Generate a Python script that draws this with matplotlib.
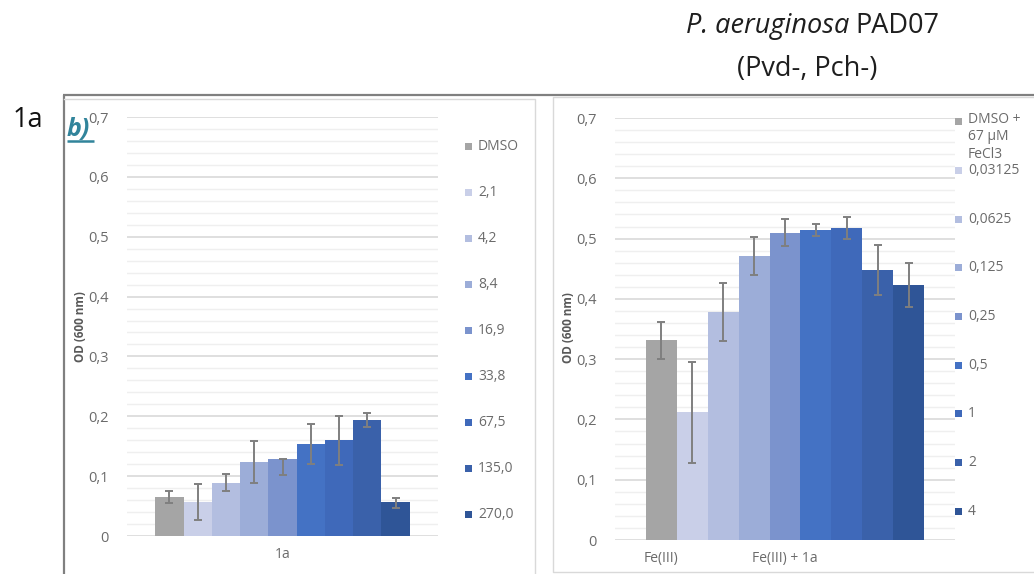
import matplotlib
matplotlib.use("Agg")
import matplotlib.pyplot as plt
from matplotlib.patches import Rectangle

plt.rcParams["font.family"] = ["Open Sans", "DejaVu Sans"]

# ---- data -------------------------------------------------------------
left_labels = ["DMSO", "2,1", "4,2", "8,4", "16,9", "33,8", "67,5", "135,0", "270,0"]
left_od = [0.065, 0.056, 0.089, 0.123, 0.128, 0.153, 0.160, 0.194, 0.056]
left_err_low = [0.010, 0.029, 0.014, 0.034, 0.026, 0.033, 0.042, 0.012, 0.009]
left_err_high = [0.010, 0.031, 0.014, 0.035, 0.001, 0.034, 0.041, 0.012, 0.008]
left_category = ["1a"]

right_labels = ["DMSO +\n67 µM\nFeCl3", "0,03125", "0,0625", "0,125", "0,25",
                "0,5", "1", "2", "4"]
right_od = [0.331, 0.212, 0.378, 0.471, 0.510, 0.515, 0.518, 0.448, 0.423]
right_err = [0.031, 0.084, 0.048, 0.031, 0.023, 0.010, 0.018, 0.042, 0.036]
right_categories = ["Fe(III)", "Fe(III) + 1a"]

y_ticks = [0, 0.1, 0.2, 0.3, 0.4, 0.5, 0.6, 0.7]
y_tick_labels = ["0", "0,1", "0,2", "0,3", "0,4", "0,5", "0,6", "0,7"]

bar_colors = ["#A5A5A5", "#C9CFE8", "#B3BEE0", "#9CADD8", "#7B93CD",
              "#4472C4", "#3F69BA", "#3A61AA", "#2F5597"]

# ---- figure -----------------------------------------------------------
W, H = 1034, 574
fig = plt.figure(figsize=(W / 100, H / 100), dpi=100)

# pixel-space overlay for frames, legends and free text
ov = fig.add_axes([0, 0, 1, 1], zorder=-1)
ov.set_xlim(0, W)
ov.set_ylim(H, 0)
ov.axis("off")

TXT = "#6B6B6B"
GRID_MAJOR = "#D9D9D9"
GRID_MINOR = "#EFEFEF"


def px_axes(x0, x1, y_top, y_bottom):
    return fig.add_axes([x0 / W, (H - y_bottom) / H, (x1 - x0) / W, (y_bottom - y_top) / H])


def style_axes(ax):
    ax.set_ylim(0, 0.7)
    ax.set_xlim(-1.5, 9.5)
    for s in ax.spines.values():
        s.set_visible(False)
    ax.set_yticks(y_ticks)
    ax.set_yticklabels(y_tick_labels, color=TXT, fontsize=10.5)
    ax.set_yticks([v / 100 for v in range(0, 71, 2) if v % 10], minor=True)
    ax.tick_params(axis="y", which="both", length=0, pad=13)
    ax.tick_params(axis="x", length=0, pad=8)
    ax.grid(axis="y", which="major", color=GRID_MAJOR, lw=1.2)
    ax.grid(axis="y", which="minor", color=GRID_MINOR, lw=1.0)
    ax.set_axisbelow(True)
    ax.patch.set_alpha(0)


err_kw = dict(ecolor="#7F7F7F", elinewidth=1.4, capsize=3, capthick=1.4)
pos = list(range(9))

# left panel
axl = px_axes(127, 438, 117, 536)
style_axes(axl)
axl.bar(pos, left_od, width=1.0, color=bar_colors,
        yerr=[left_err_low, left_err_high], error_kw=err_kw)
axl.set_xticks([4])
axl.set_xticklabels(left_category, color=TXT, fontsize=10)

# right panel
axr = px_axes(615, 955, 118, 540)
style_axes(axr)
axr.bar(pos, right_od, width=1.0, color=bar_colors, yerr=right_err, error_kw=err_kw)
axr.set_xticks([0, 4])
axr.set_xticklabels(right_categories, color=TXT, fontsize=10)

# y-axis titles
ov.text(81, 327, "OD (600 nm)", rotation=90, ha="center", va="center",
        fontsize=8.5, fontweight="bold", color="#595959")
ov.text(569, 328, "OD (600 nm)", rotation=90, ha="center", va="center",
        fontsize=8.5, fontweight="bold", color="#595959")

# frames
ov.plot([63, W], [95, 95], color="#808080", lw=1.6, solid_capstyle="butt")
ov.plot([64, 64], [95, H], color="#808080", lw=1.6, solid_capstyle="butt")
ov.plot([64, 535, 535], [99, 99, H], color=GRID_MAJOR, lw=1.0)
ov.plot([W, 553, 553, W], [97, 97, 572, 572], color=GRID_MAJOR, lw=1.0)

# legends
for i, (lab, col) in enumerate(zip(left_labels, bar_colors)):
    y = 146.7 + 46.0 * i
    ov.add_patch(Rectangle((464.5, y - 3.5), 7, 7, color=col, lw=0))
    ov.text(478, y, lab, ha="left", va="center", fontsize=10, color=TXT)

for i, (lab, col) in enumerate(zip(right_labels, bar_colors)):
    y = 121.7 + 48.7 * i
    ov.add_patch(Rectangle((954.5, y - 3.5), 7, 7, color=col, lw=0))
    if "\n" in lab:
        ov.text(968, y - 10, lab, ha="left", va="top", fontsize=10, color=TXT,
                linespacing=1.25)
    else:
        ov.text(968, y, lab, ha="left", va="center", fontsize=10, color=TXT)

# headings
ov.text(849, 33, "P. aeruginosa", ha="right", va="baseline", fontsize=19.5,
        style="italic", color="#1E1E1E")
ov.text(855, 33, "PAD07", ha="left", va="baseline", fontsize=19.5, color="#1E1E1E")
ov.text(807, 76, "(Pvd-, Pch-)", ha="center", va="baseline", fontsize=19.5,
        color="#1E1E1E")
ov.text(13, 127, "1a", ha="left", va="baseline", fontsize=19.5, color="#111111")
ov.text(67, 136, "b)", ha="left", va="baseline", fontsize=18, fontweight="bold",
        style="italic", color="#31849B")
ov.plot([67, 94], [140.5, 140.5], color="#31849B", lw=1.8, solid_capstyle="butt")

fig.savefig("out.png", dpi=100)
